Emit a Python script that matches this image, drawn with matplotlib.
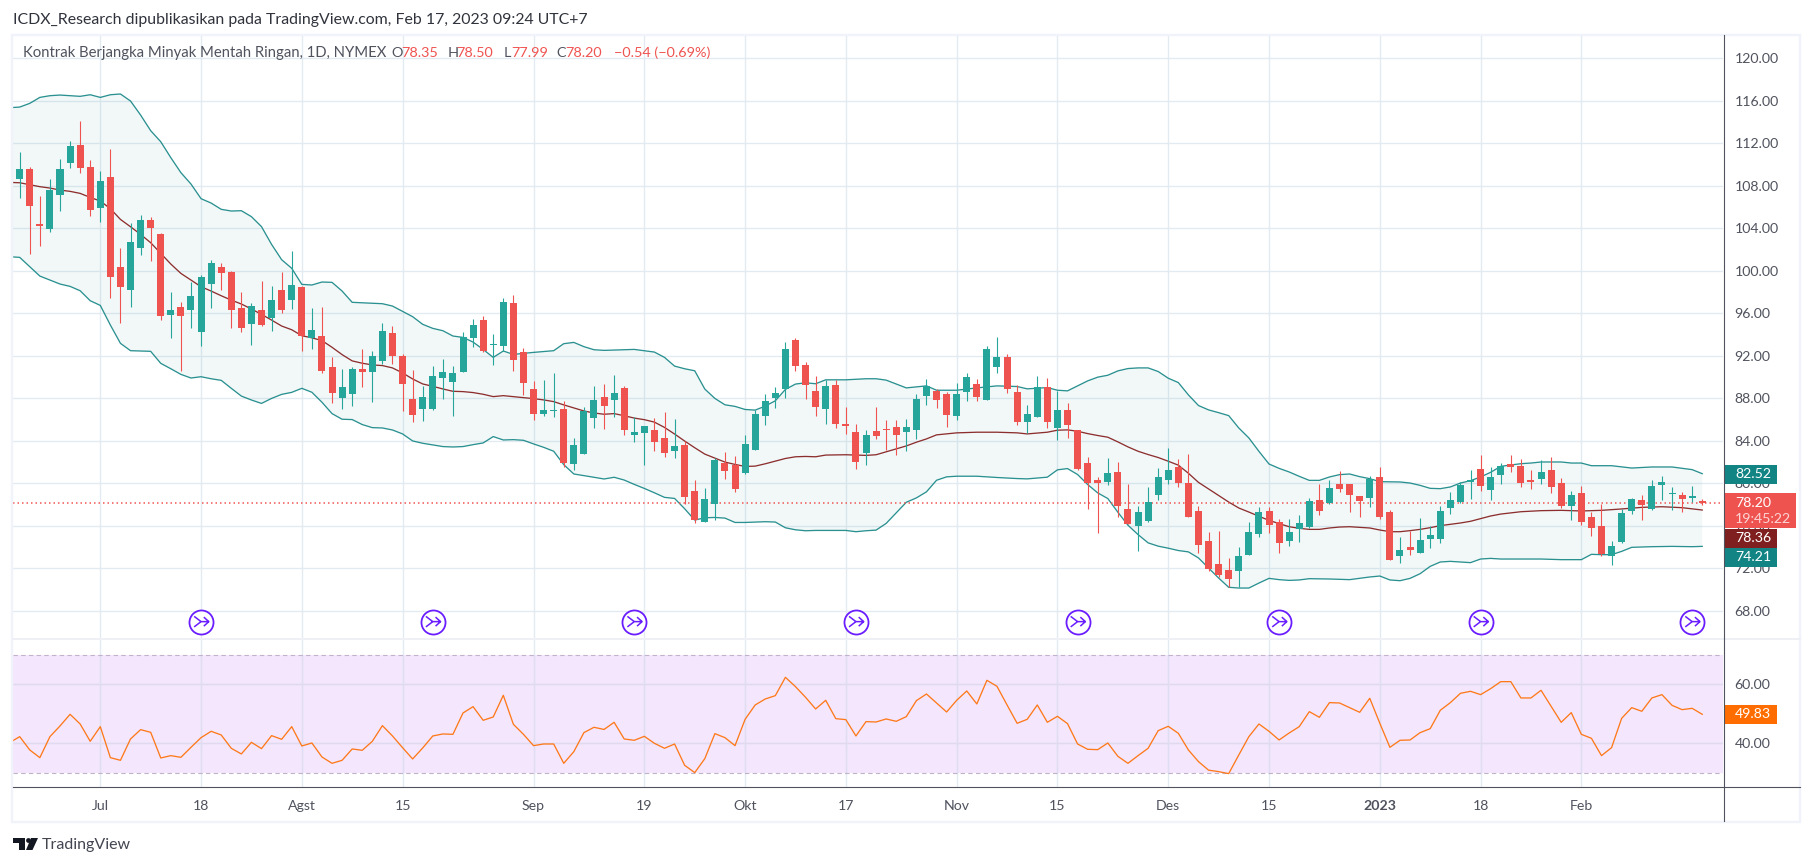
import matplotlib
matplotlib.use('Agg')
import matplotlib.pyplot as plt
from matplotlib.path import Path
from matplotlib.patches import Rectangle, Polygon, Circle
import numpy as np

W, H = 1813, 866
plt.rcParams['font.family'] = ['Lato', 'DejaVu Sans']

# daily candles, Jun 2022 - Feb 2023
opens = [114.75,108.64,109.58,104.40,103.93,107.13,110.14,111.84,109.77,105.91,
         108.83,100.36,98.20,102.15,104.78,103.46,95.84,96.60,96.31,94.24,
         98.76,100.36,99.89,96.50,95.00,96.31,95.56,98.20,97.25,98.48,
         93.68,93.91,90.99,88.08,88.45,90.80,90.52,91.56,94.19,92.03,
         87.98,87.04,87.04,89.96,89.58,90.52,93.72,95.41,93.06,92.97,
         97.01,92.40,88.92,86.57,86.85,87.04,81.87,82.81,86.19,88.17,
         87.89,89.00,84.55,84.74,85.02,84.27,83.04,83.61,79.28,76.36,
         78.09,81.92,81.73,80.97,83.14,86.34,88.03,88.88,93.49,91.14,
         88.69,87.00,89.25,85.59,84.83,82.86,84.93,85.11,85.30,84.83,
         85.02,88.27,88.74,88.46,86.39,88.65,89.40,87.89,91.00,91.94,
         88.65,85.82,86.29,89.12,85.26,86.95,85.07,81.97,80.37,80.18,
         81.12,77.64,75.95,76.51,78.96,80.37,81.59,80.08,77.45,74.62,
         72.45,71.89,71.79,73.30,75.27,77.44,76.40,74.62,75.75,75.93,
         78.47,78.19,79.98,79.98,78.85,78.66,80.64,77.34,73.21,74.05,
         73.49,74.80,74.80,77.72,78.29,80.17,81.39,79.41,80.83,81.86,
         81.67,80.36,80.45,81.30,80.07,77.91,79.13,76.87,76.03,73.21,
         74.52,77.44,78.47,77.63,79.88,79.04,78.94,78.66,78.35]
highs = [114.75,111.18,109.77,107.04,108.64,110.52,112.21,114.09,110.43,109.39,
         111.46,102.15,104.50,105.25,105.06,103.56,98.00,97.07,98.95,99.61,
         101.02,100.74,99.98,98.00,96.97,99.04,98.57,99.89,101.86,98.57,
         96.50,96.64,91.93,90.80,90.99,92.69,92.50,95.13,94.85,92.22,
         90.71,89.20,91.09,91.75,91.09,94.29,95.51,95.79,94.10,97.48,
         97.77,92.78,89.68,89.77,90.43,87.79,84.31,87.23,89.20,89.39,
         90.24,89.16,86.24,85.40,86.15,86.71,86.06,83.99,80.32,79.56,
         82.39,82.95,82.57,84.55,86.90,88.41,89.07,93.30,93.68,91.42,
         90.10,89.72,89.72,87.18,85.59,85.02,87.18,85.96,85.96,86.06,
         88.41,89.87,88.93,88.65,89.49,90.43,89.78,92.97,93.82,92.22,
         89.30,87.42,90.15,89.96,88.74,87.61,85.07,82.53,80.56,82.44,
         82.06,79.99,77.92,79.71,81.50,83.38,82.34,82.81,77.92,75.46,
         75.56,73.02,74.05,76.40,77.81,77.81,76.69,76.69,77.06,78.66,
         79.98,80.36,81.20,79.98,78.85,80.73,81.58,77.53,74.99,75.56,
         76.78,76.03,77.91,79.23,80.17,81.30,82.71,81.58,81.95,82.71,
         82.33,81.30,82.24,82.52,80.54,79.32,79.79,77.34,78.10,74.62,
         77.63,78.66,78.94,80.36,80.73,79.70,79.23,79.79,78.50]
lows = [107.90,106.88,101.58,102.33,103.65,105.63,109.67,109.20,105.16,104.59,
        97.44,95.09,96.60,101.49,100.92,95.37,93.68,90.57,94.62,92.93,
        96.50,98.20,94.62,94.24,93.02,94.81,94.34,96.03,96.41,92.46,
        92.64,90.43,87.61,87.04,87.32,89.11,87.70,91.27,91.27,86.85,
        85.82,85.91,86.95,87.98,86.38,90.52,92.87,92.40,91.18,92.50,
        90.62,88.36,86.00,86.38,86.29,81.58,81.30,82.81,85.25,85.16,
        86.29,84.55,83.89,81.73,83.04,82.48,82.39,78.06,76.27,76.36,
        76.55,80.41,79.19,80.88,83.14,85.49,87.09,88.03,90.57,87.94,
        86.34,85.59,85.21,84.64,81.35,81.73,84.17,83.14,82.67,83.04,
        84.17,87.42,87.14,85.35,86.01,87.80,87.71,87.89,90.43,88.55,
        85.54,84.79,86.29,85.26,84.13,84.32,81.31,77.64,75.38,79.90,
        76.89,76.23,73.69,76.42,78.49,79.99,79.71,76.89,73.50,71.79,
        71.23,70.29,70.29,73.30,74.99,75.37,73.49,74.15,74.52,75.84,
        77.06,78.10,79.23,77.34,76.87,77.81,76.69,72.83,72.55,73.30,
        73.49,73.96,74.43,77.16,78.19,78.57,79.32,78.47,79.98,81.11,
        79.70,79.51,79.98,79.13,77.72,76.59,76.12,75.09,73.21,72.36,
        74.43,77.16,76.59,77.53,78.47,77.53,77.34,78.29,77.99]
closes = [107.92,109.58,106.10,104.22,107.60,109.58,111.74,109.67,105.72,108.45,
          99.42,98.48,102.71,104.78,104.03,95.75,96.31,95.75,97.63,99.42,
          100.74,99.79,96.31,94.62,96.69,94.90,97.25,96.31,98.67,93.84,
          94.43,90.62,88.55,89.11,90.80,90.52,92.03,94.38,92.03,89.39,
          86.48,88.17,90.15,90.52,90.43,93.81,94.94,92.50,93.16,97.11,
          91.65,89.49,86.57,86.95,86.95,81.96,83.65,86.85,87.89,87.32,
          88.55,85.02,84.83,85.40,83.89,82.86,83.52,78.72,76.55,78.53,
          82.20,81.16,79.47,83.70,86.53,87.75,88.50,92.64,91.04,89.25,
          87.18,89.16,85.59,85.40,82.01,84.55,84.46,85.02,84.55,85.30,
          87.94,89.21,87.89,86.48,88.46,90.06,88.18,92.69,91.85,88.93,
          85.82,86.58,89.12,85.82,86.95,85.54,81.40,80.08,80.00,81.03,
          77.92,76.23,77.36,78.30,80.65,81.31,80.00,76.89,74.25,71.98,
          71.42,71.04,73.21,75.46,77.34,76.12,74.43,75.46,76.31,78.38,
          77.44,79.60,79.51,78.94,78.38,80.42,76.87,72.83,73.77,73.77,
          74.71,75.18,77.44,78.47,79.88,80.36,79.79,80.64,81.67,81.58,
          80.07,80.17,81.11,79.70,77.91,78.94,76.40,75.84,73.39,74.15,
          77.25,78.57,78.00,79.79,80.17,79.13,78.57,78.85,78.20]

# bollinger bands, read at the bars where the line bends
upper_i = list(range(0, 6)) + [7, 8, 9, 10, 11, 12, 13, 14, 15, 16, 17, 18, 19, 20, 21, 22, 23, 24, 25, 26, 27, 28, 29,
           30, 31, 32, 33, 34, 37, 38, 40, 41, 42, 43, 44, 45, 46, 47, 48, 49, 50, 51, 52, 54, 55, 56, 57, 58, 59,
           60, 62, 64, 65, 66, 67, 68, 69, 70, 71, 72, 73, 74, 75, 76, 77, 78, 79, 80, 81, 83, 85, 86, 87, 88,
           89, 90, 91, 92, 94, 96, 98, 100, 101, 103, 104, 105, 106, 107, 108, 109, 110, 111, 112, 113, 114, 115,
           116, 117, 118, 119, 120, 121, 122, 123, 124, 125, 126, 127, 128, 129, 130, 131, 132, 133, 134, 135, 136,
           138, 139, 140, 141, 142, 143, 144, 145, 146, 147, 148, 150, 151, 152, 154, 155, 156, 157, 159, 161, 163,
           165, 167, 168]
upper = [115.35,115.41,115.76,116.32,116.48,116.54,116.42,116.57,116.32,116.57,116.64,115.98,114.66,113.19,112.15,
         110.65,109.24,108.17,106.79,106.38,105.79,105.63,105.66,105.10,104.16,102.49,101.05,100.24,98.73,
         98.67,98.95,98.92,98.10,97.04,96.91,96.69,95.69,94.97,94.59,94.37,93.87,93.74,93.30,92.61,91.86,92.46,
         92.14,92.24,92.33,92.49,93.15,93.27,92.87,92.58,92.52,
         92.55,92.61,92.36,91.86,91.04,90.79,90.60,88.88,88.00,87.40,87.25,86.96,86.90,87.28,87.78,88.85,89.35,
         89.47,89.38,89.75,89.75,89.85,89.85,89.72,89.35,
         88.99,89.09,89.18,88.77,88.77,88.99,89.18,89.12,88.90,89.02,88.77,88.71,89.18,89.65,90.00,90.18,90.59,
         90.81,90.87,90.87,90.53,89.90,89.49,88.33,87.33,86.92,86.66,86.38,85.22,84.28,83.02,81.83,81.42,81.08,
         80.67,80.29,80.29,80.61,80.83,80.89,80.64,80.45,80.17,80.14,80.04,79.82,79.54,79.51,79.67,80.04,80.26,
         80.61,81.05,81.61,81.86,81.92,82.02,82.02,81.92,81.92,81.67,81.67,81.45,81.55,81.55,81.30,80.92]

basis_i = list(range(0, 81)) + [81, 83, 85, 86, 87, 88, 89, 90, 91, 92, 94, 96, 98, 100, 101, 103, 104, 105] + \
          list(range(106, 145)) + [145, 146, 147, 148, 150, 152, 154, 156, 158, 160, 162, 164, 166, 168]
basis = [108.32,108.29,108.10,107.92,107.79,107.60,107.48,107.29,106.91,106.57,105.85,104.84,104.15,103.43,102.65,
         101.64,100.64,99.76,99.14,98.51,98.10,97.66,97.25,96.88,96.41,95.91,95.37,94.81,94.46,93.90,93.70,
         93.44,92.81,92.12,91.53,91.31,91.15,91.09,90.87,90.40,89.83,89.36,89.14,88.89,88.67,88.64,88.55,88.39,
         88.17,88.26,88.17,88.08,87.98,87.86,87.70,87.39,87.10,86.82,86.63,86.51,86.57,
         86.37,86.15,86.00,85.77,85.27,84.65,83.99,83.36,82.76,82.39,82.01,81.79,81.60,81.63,81.85,82.10,82.35,
         82.51,82.54,82.51,82.67,82.70,82.64,82.70,82.98,83.26,83.53,83.88,84.19,84.57,84.76,84.82,84.82,84.76,
         84.66,84.82,85.01,85.04,84.91,84.69,84.51,84.35,83.91,83.44,83.03,82.72,82.44,82.09,81.72,80.96,80.10,
         79.48,78.85,78.25,77.69,77.31,76.91,76.53,76.22,75.93,75.78,75.68,75.68,75.81,75.90,75.93,75.87,75.81,
         75.62,75.46,75.46,75.56,75.68,75.84,76.03,76.15,76.28,76.44,76.69,76.94,77.12,77.34,77.44,77.47,77.41,
         77.47,77.60,77.75,77.81,77.72,77.50]

lower_i = list(range(0, 81)) + [81, 83, 84, 85, 86, 87, 88, 89, 90, 91, 92, 93, 94, 96, 98, 100, 101, 103, 104, 105] + \
          list(range(106, 130)) + [131, 133, 135, 136, 137, 138, 139, 140, 141, 142, 143, 144, 145, 146, 147, 148,
                                   150, 152, 154, 156, 157, 158, 159, 160, 161, 163, 165, 167, 168]
lower = [101.33,101.27,100.39,99.51,99.14,98.76,98.54,98.13,97.19,96.75,94.90,93.18,92.49,92.46,92.43,91.30,90.79,
         90.26,89.92,90.04,89.85,89.70,88.95,88.22,87.85,87.53,88.00,88.38,88.57,88.95,88.58,87.64,86.57,86.04,
         86.01,85.54,85.25,85.22,85.03,84.66,84.00,83.78,83.62,83.47,83.43,83.47,83.65,83.81,84.41,84.09,84.12,
         84.06,83.72,83.40,83.03,81.77,80.89,80.74,80.58,80.42,80.58,
         80.32,79.91,79.53,79.12,78.69,78.59,77.62,76.55,76.77,76.80,76.74,76.33,76.33,76.37,76.40,76.37,75.83,
         75.64,75.55,75.58,75.58,75.58,75.46,75.55,75.61,76.24,77.24,78.23,78.64,79.21,80.30,80.62,80.68,80.68,
         80.56,80.46,80.43,80.59,81.28,81.40,80.84,79.90,79.11,78.58,77.29,76.07,75.19,74.41,74.10,73.91,73.69,
         73.56,72.99,72.04,71.10,70.23,70.16,70.16,70.63,71.07,70.95,70.88,70.92,71.04,71.01,70.95,71.20,71.29,
         70.92,70.85,71.07,71.51,72.20,72.61,72.67,72.61,72.55,72.89,72.95,72.89,72.89,72.89,72.83,72.83,73.33,
         73.30,73.30,73.61,73.99,74.05,74.08,74.05,74.08]

rsi = [40.23,42.26,37.74,35.14,42.26,45.88,49.83,46.55,40.68,45.65,35.14,34.24,41.47,44.63,43.73,35.03,35.82,35.25,
       38.64,41.92,44.07,42.83,38.31,36.39,40.34,38.19,42.60,41.36,45.65,39.10,40.11,35.37,33.22,34.24,38.08,37.63,
       40.68,45.99,42.49,38.53,34.69,38.42,42.49,43.17,43.05,50.28,52.43,47.80,48.93,56.27,46.44,43.05,39.21,39.77,
       39.77,33.22,37.18,43.62,45.43,44.70,47.12,41.47,41.02,42.37,40.00,38.31,39.77,32.54,30.06,34.80,43.28,41.92,
       39.21,48.14,53.00,55.03,56.16,62.37,59.21,55.60,51.64,54.58,48.36,48.02,42.49,47.35,47.23,48.25,47.46,49.04,
       54.46,56.72,53.67,50.62,54.58,57.74,53.34,61.36,59.32,53.00,46.78,48.14,53.00,47.12,49.15,46.67,39.77,37.97,
       37.85,40.11,35.59,33.22,35.82,38.31,44.29,45.76,43.39,37.74,33.79,30.90,30.40,29.72,36.05,42.26,46.55,44.07,
       41.13,43.50,45.65,50.73,48.82,53.79,53.67,52.09,50.51,55.26,46.78,38.64,41.02,41.13,43.62,44.97,51.19,53.79,
       56.95,57.63,56.50,58.53,60.90,60.90,55.37,55.37,57.97,52.54,47.12,50.40,43.05,41.70,35.82,38.53,48.47,52.09,
       50.85,55.37,56.50,52.88,51.41,51.86,49.83]

price_ticks = list(range(68, 121, 4))
rsi_ticks = [40, 60]
time_idx = [9, 19, 29, 39, 52, 63, 73, 83, 94, 104, 115, 125, 136, 146, 156]
time_labels = ['Jul', '18', 'Agst', '15', 'Sep', '19', 'Okt', '17', 'Nov', '15', 'Des', '15', '2023', '18', 'Feb']
roll_idx = [19, 42, 62, 84, 106, 126, 146, 167]
last_close = closes[-1]

GREEN, RED = '#26a69a', '#ef5350'
TEAL, MAROON = '#138484', '#872323'
GRID, TXT = '#e1ebf1', '#50535e'
ORANGE = '#ff6d00'
PX = 0.72  # one pixel in points

fig = plt.figure(figsize=(W / 100, H / 100), dpi=100, facecolor='white')


def pane(top, bottom, left=13, right=1723.5):
    return fig.add_axes([left / W, 1 - bottom / H, (right - left) / W, (bottom - top) / H])


ax = pane(35, 638)
ax2 = pane(640, 787)
for a in (ax, ax2):
    a.set_xlim(0.335, 170.11)
    a.set_xticks(time_idx)
    for s in a.spines.values():
        s.set_visible(False)
    a.yaxis.tick_right()
    a.tick_params(length=0, labelcolor=TXT, labelsize=10.2)
    a.tick_params(axis='y', pad=8)
    a.grid(True, color=GRID, lw=1.4 * PX)
    a.set_axisbelow(True)
ax.set_ylim(65.46, 122.19)
ax.set_yticks(price_ticks)
ax.set_yticklabels(['%.2f' % p for p in price_ticks])
ax.tick_params(axis='x', labelbottom=False)

# price pane
x = np.arange(len(closes))
ax.fill(np.r_[upper_i, lower_i[::-1]], np.r_[upper, lower[::-1]], color=TEAL, alpha=0.05, lw=0)
ax.plot(upper_i, upper, color=TEAL, lw=1.3 * PX, alpha=0.9)
ax.plot(lower_i, lower, color=TEAL, lw=1.3 * PX, alpha=0.9)
ax.plot(basis_i, basis, color=MAROON, lw=1.3 * PX, alpha=0.95)
colors = [GREEN if c >= o else RED for o, c in zip(opens, closes)]
ax.axhline(last_close, color=RED, lw=1.5 * PX, ls=(0, (1, 2)))
ax.vlines(x, lows, highs, colors=colors, lw=1.1 * PX, zorder=3)
ax.bar(x, np.abs(np.array(closes) - np.array(opens)), bottom=np.minimum(opens, closes), width=0.695,
       color=colors, lw=0, zorder=4)

# contract roll markers
glyph = Path([(-0.55, 0.42), (0, 0), (-0.55, -0.42), (0, 0), (0.62, 0), (0.22, 0.36), (0.62, 0), (0.22, -0.36)],
             [Path.MOVETO, Path.LINETO, Path.MOVETO, Path.LINETO, Path.LINETO, Path.MOVETO, Path.LINETO, Path.LINETO])
ax.scatter(roll_idx, [67] * len(roll_idx), s=300, facecolors='white', edgecolors='#6a1eff', lw=1.3, zorder=5)
ax.scatter(roll_idx, [67] * len(roll_idx), s=125, marker=glyph, facecolors='none', edgecolors='#6a1eff', lw=1.1, zorder=6)

# rsi pane
ax2.set_ylim(25.19, 75.02)
ax2.set_yticks(rsi_ticks)
ax2.set_yticklabels(['%.2f' % p for p in rsi_ticks])
ax2.set_xticklabels(time_labels)
ax2.get_xticklabels()[12].set_fontweight('bold')
ax2.tick_params(axis='x', pad=9)
ax2.axhspan(30, 70, color='#f4e6fd', lw=0, zorder=0.5)
ax2.axhline(70, color='#bfb2c9', lw=1.1 * PX, ls=(0, (4, 3)))
ax2.axhline(30, color='#bfb2c9', lw=1.1 * PX, ls=(0, (4, 3)))
for t in rsi_ticks:
    ax2.axhline(t, color='#e0d9f0', lw=1.4 * PX, zorder=0.6)
for t in time_idx:
    ax2.axvline(t, color='#e0dcf2', lw=1.4 * PX, ymin=0.095, ymax=0.895, zorder=0.6)
ax2.plot(x, rsi, color=ORANGE, lw=1.3 * PX, alpha=0.9)

# chrome drawn in pixel coordinates on top
ov = fig.add_axes([0, 0, 1, 1], zorder=5)
ov.set_xlim(0, W)
ov.set_ylim(H, 0)
ov.axis('off')
ov.add_patch(Rectangle((12, 34.5), 1788, 787, fill=False, ec='#f0f3fa', lw=2.4 * PX))
ov.plot([13, 1800], [638.7, 638.7], color='#eef0f6', lw=2 * PX)
ov.plot([13, 1800], [787, 787], color=TXT, lw=1.1 * PX)
ov.plot([1723.5, 1723.5], [35, 821], color=TXT, lw=1.1 * PX)

ov.text(13, 20, 'ICDX_Research dipublikasikan pada TradingView.com, Feb 17, 2023 09:24 UTC+7',
        color='#30333c', fontsize=11.4, va='center')
ov.text(23.3, 53, 'Kontrak Berjangka Minyak Mentah Ringan, 1D, NYMEX', color=TXT, fontsize=10.7, va='center')
legend_parts = [(391, 'O', TXT), (400.8, '78.35', RED), (447.5, 'H', TXT), (456, '78.50', RED), (503.5, 'L', TXT),
                (511.3, '77.99', RED), (556.8, 'C', TXT), (565.4, '78.20', RED), (613.8, '\u22120.54 (\u22120.69%)', RED)]
for px_x, s, c in legend_parts:
    ov.text(px_x, 53, s, color=c, fontsize=10.4, va='center')

# value labels on the price scale
labels = [(465, 483.7, 1776.6, TEAL, '82.52'), (529, 547.7, 1776.6, '#7f1f1f', '78.36'),
          (547.7, 566.7, 1776.6, TEAL, '74.21'), (705, 724, 1776.6, ORANGE, '49.83')]
for y0, y1, x1, c, s in labels:
    ov.add_patch(Rectangle((1724, y0), x1 - 1724, y1 - y0, color=c, lw=0))
    ov.text(1735, (y0 + y1) / 2, s, color='white', fontsize=10.2, va='center')
ov.add_patch(Rectangle((1724, 493), 72, 34.7, color=RED, lw=0))
ov.text(1735, 503, '78.20', color='white', fontsize=10.2, va='center')
ov.text(1735, 519, '19:45:22', color='#fbd5d4', fontsize=10.2, va='center')

# tradingview logo
ov.add_patch(Polygon([(13, 838), (25, 838), (25, 850), (19, 850), (19, 843), (13, 843)], color='#131722', lw=0))
ov.add_patch(Circle((28.5, 840.5), 2.4, color='#131722', lw=0))
ov.add_patch(Polygon([(31, 838), (38, 838), (32.5, 850), (26, 850)], color='#131722', lw=0))
ov.text(42, 845, 'TradingView', color='#434651', fontsize=11.5, va='center')

fig.savefig('out.png', dpi=100)
